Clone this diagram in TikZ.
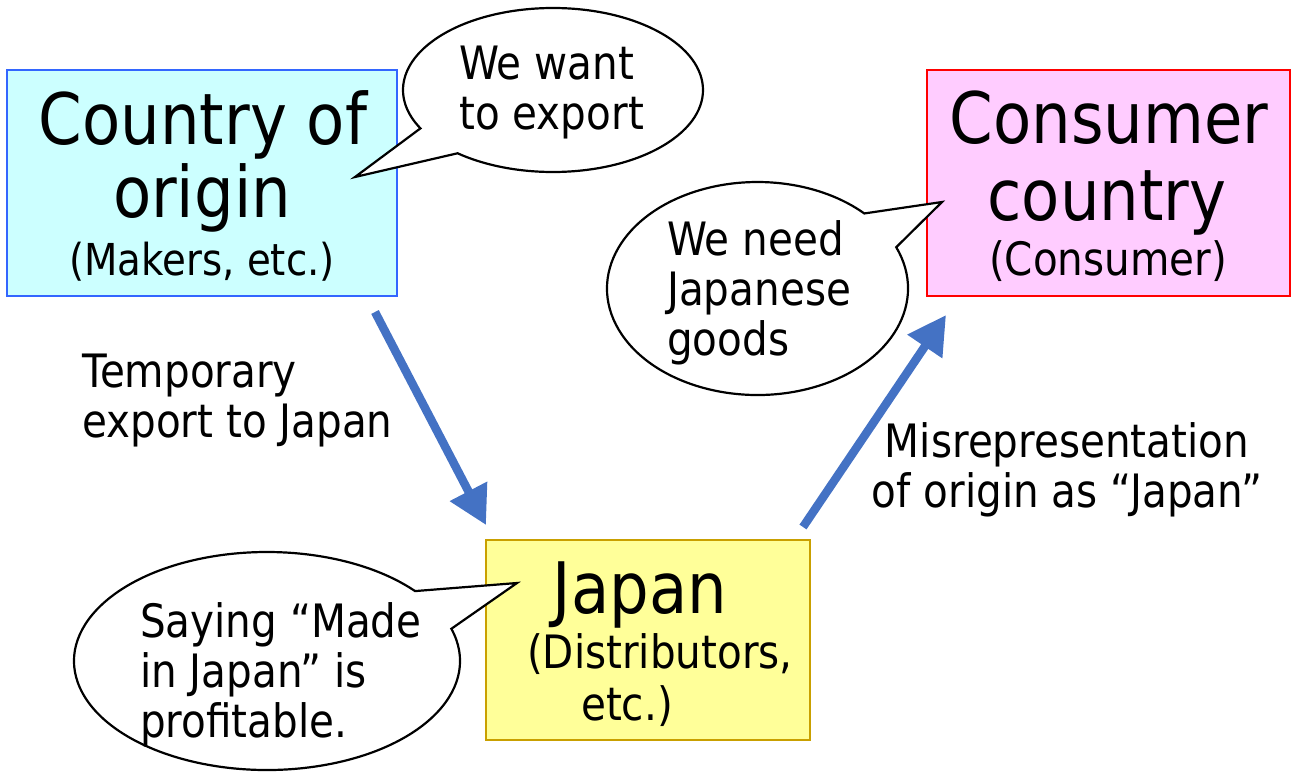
\documentclass[tikz,border=0pt]{standalone}
\usepackage{fontspec}
\setmainfont{DejaVu Sans}[FakeStretch=0.88]
\usetikzlibrary{arrows.meta,calc}
\definecolor{cyanfill}{HTML}{CCFFFF}
\definecolor{cyanline}{HTML}{3366FF}
\definecolor{pinkfill}{HTML}{FFCCFF}
\definecolor{redline}{HTML}{FF0000}
\definecolor{yelfill}{HTML}{FFFF99}
\definecolor{yelline}{HTML}{C9A000}
\definecolor{arrblue}{HTML}{4472C4}
\begin{document}
\begin{tikzpicture}[x=1pt,y=-1pt,
  box/.style={rectangle,line width=2pt,inner sep=0pt},
  big/.style={font=\fontsize{71}{72}\selectfont,inner sep=0pt},
  txt/.style={font=\fontsize{46}{50}\selectfont,inner sep=0pt},
  small/.style={font=\fontsize{44}{50}\selectfont,inner sep=0pt},
  bubble/.style={draw=black,fill=white,line width=2.2pt,line join=miter},
  arr/.style={draw=arrblue,line width=8.5pt,-{Triangle[length=38pt,width=40pt]}}]
\useasboundingbox (0,0) rectangle (1295,773);
% boxes
\node[box,draw=cyanline,fill=cyanfill,minimum width=390pt,minimum height=226pt] (origin) at (202,183) {};
\node[box,draw=redline,fill=pinkfill,minimum width=363pt,minimum height=226pt] (consumer) at (1108.5,183) {};
\node[box,draw=yelline,fill=yelfill,minimum width=324pt,minimum height=200pt] (japan) at (648,640) {};
% box texts
\node[big,anchor=base] (o1) at (203,145) {Country of};
\node[big,anchor=base] (o2) at (202,217) {origin};
\node[small,anchor=base] (o3) at (202,275) {(Makers, etc.)};
\node[big,anchor=base] (c1) at (1109,143) {Consumer};
\node[big,anchor=base] (c2) at (1107,220) {country};
\node[txt,anchor=base] (c3) at (1108,275) {(Consumer)};
\node[big,anchor=base] (j1) at (640,613) {Japan};
\node[txt,anchor=base] (j2) at (660,668) {(Distributors,};
\node[txt,anchor=base] (j3) at (627,720) {etc.)};
% bubble 1
\coordinate (b1c) at (553,90);
\coordinate (b1tip) at (355,177);
\draw[bubble] ($(b1c)+(152.1:150 and 82)$) -- (b1tip) -- ($(b1c)+(129.5:150 and 82)$)
  arc[start angle=129.5,end angle=-207.9,x radius=150,y radius=82] -- cycle;
\node[txt,anchor=base west,align=left] (b1t) at (459,130) {We want\\to export};
% bubble 2
\coordinate (b2c) at (757.5,288.5);
\coordinate (b2tip) at (942,202);
\draw[bubble] ($(b2c)+(-44.8:150.5 and 106.5)$) -- (b2tip) -- ($(b2c)+(-22.8:150.5 and 106.5)$)
  arc[start angle=-22.8,end angle=315.2,x radius=150.5,y radius=106.5] -- cycle;
\node[txt,anchor=base west,align=left] (b2t) at (667,355) {We need\\Japanese\\goods};
% bubble 3
\coordinate (b3c) at (267,661);
\coordinate (b3tip) at (517,583);
\draw[bubble] ($(b3c)+(-39.9:193 and 109)$) -- (b3tip) -- ($(b3c)+(-17.2:193 and 109)$)
  arc[start angle=-17.2,end angle=320.1,x radius=193,y radius=109] -- cycle;
\node[txt,anchor=base west,align=left] (b3t) at (140,737) {Saying “Made\\in Japan” is\\profitable.};
% arrows
\coordinate (a1s) at (375,312);
\coordinate (a1e) at (486,525);
\coordinate (a2s) at (803,527);
\coordinate (a2e) at (946,315);
\draw[arr] (a1s) -- (a1e);
\draw[arr] (a2s) -- (a2e);
% labels
\node[txt,anchor=base west,align=left] (l1) at (82,437) {Temporary\\export to Japan};
\node[txt,anchor=base,align=center] (l2) at (1067,507) {Misrepresentation\\of origin as “Japan”};
\end{tikzpicture}
\end{document}
